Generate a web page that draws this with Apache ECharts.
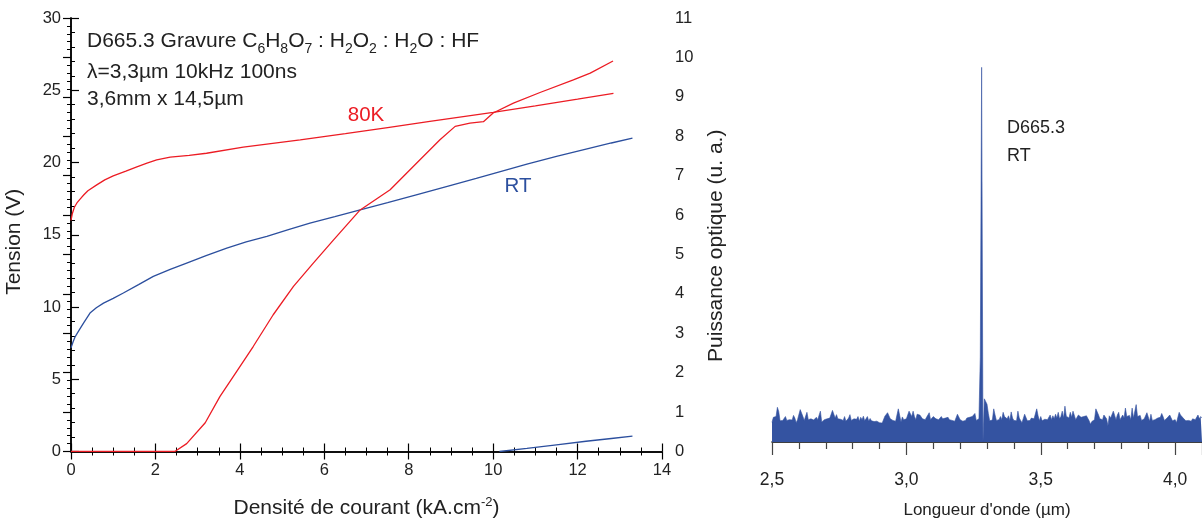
<!DOCTYPE html>
<html>
<head>
<meta charset="utf-8">
<script src="https://cdn.jsdelivr.net/npm/echarts@6/dist/echarts.min.js"></script>
<style>
html,body{margin:0;padding:0;background:#fff;}
#c{width:1202px;height:524px;}
</style>
</head>
<body>
<div id="c"></div>
<script>
// ---- Left chart data: voltage (Tension, V) vs current density (kA/cm2)
const J_RT = [0,0.05,0.1,0.2,0.3,0.45,0.6,0.77,1.0,1.24,1.6,1.95,2.35,2.74,3.2,3.69,4.15,4.64,5.15,5.66,6.25,6.85,7.5,8.2,9.0,9.6,10.17,10.8,11.5,12.2,12.8,13.3];
const V_RT = [7.17,7.6,7.95,8.43,8.9,9.58,9.95,10.27,10.6,10.97,11.55,12.12,12.6,13.04,13.55,14.08,14.5,14.88,15.35,15.8,16.25,16.72,17.22,17.78,18.42,18.9,19.37,19.88,20.42,20.92,21.35,21.68];
const J_80K = [0,0.03,0.08,0.14,0.21,0.3,0.4,0.61,0.8,1.0,1.3,1.56,1.8,2.03,2.35,2.8,3.21,4.08,5.43,6.5,7.5,8.5,10.0,11.0,12.0,12.85];
const V_80K = [16.0,16.45,16.9,17.2,17.45,17.75,18.05,18.45,18.8,19.07,19.4,19.7,19.95,20.18,20.37,20.5,20.64,21.06,21.56,22.0,22.42,22.85,23.47,23.92,24.38,24.79];
// ---- Optical power (u. a.) vs current density
const JP_80K = [0,2.4,2.46,2.74,3.18,3.53,3.93,4.32,4.79,5.27,5.74,6.22,6.85,7.56,8.19,8.74,9.1,9.45,9.77,10.0,10.48,11.11,11.9,12.3,12.84];
const P_80K = [0,0,0,0.2,0.73,1.4,2.04,2.67,3.47,4.19,4.78,5.37,6.13,6.64,7.32,7.91,8.25,8.33,8.37,8.59,8.84,9.11,9.43,9.6,9.91];
const JP_RT = [10.15,10.8,11.5,12.2,12.8,13.3];
const P_RT = [0,0.08,0.17,0.26,0.33,0.39];

// ---- Right chart: emission spectrum, samples from 2.5 µm every 0.005 µm
const WL_START = 2.5, WL_STEP = 0.005;
const SPECTRUM = [
0.51,0.64,0.62,0.66,0.9,0.79,0.55,0.52,0.56,0.6,
0.66,0.56,0.54,0.58,0.55,0.57,0.69,0.62,0.5,0.58,
0.55,0.84,0.86,0.66,0.56,0.6,0.77,0.58,0.55,0.6,
0.6,0.57,0.62,0.64,0.58,0.6,0.8,0.52,0.57,0.58,
0.58,0.6,0.55,0.62,0.58,0.82,0.79,0.62,0.71,0.6,
0.57,0.59,0.6,0.56,0.66,0.54,0.58,0.62,0.71,0.56,
0.58,0.6,0.55,0.59,0.66,0.54,0.64,0.58,0.67,0.55,
0.6,0.66,0.54,0.61,0.55,0.54,0.53,0.56,0.54,0.52,
0.5,0.51,0.49,0.5,0.67,0.62,0.76,0.73,0.6,0.57,
0.56,0.59,0.54,0.58,0.86,0.82,0.52,0.65,0.58,0.55,
0.6,0.56,0.8,0.8,0.66,0.8,0.66,0.58,0.72,0.7,
0.7,0.66,0.6,0.62,0.58,0.64,0.62,0.76,0.58,0.61,
0.66,0.62,0.6,0.64,0.58,0.62,0.66,0.6,0.58,0.62,
0.6,0.64,0.58,0.62,0.56,0.6,0.54,0.58,0.72,0.68,
0.58,0.6,0.54,0.55,0.56,0.62,0.62,0.64,0.6,0.66,
0.66,0.74,0.56,0.55,0.6,2.2,9.72,0,1.12,1.05,
0.98,0.74,0.55,0.54,0.57,0.86,0.7,0.56,0.55,0.58,
0.66,0.58,0.77,0.66,0.66,0.6,0.68,0.56,0.78,0.62,
0.56,0.57,0.55,0.8,0.62,0.56,0.5,0.49,0.72,0.7,
0.55,0.53,0.56,0.62,0.58,0.6,0.57,0.86,0.68,0.55,
0.66,0.55,0.58,0.59,0.57,0.58,0.6,0.7,0.58,0.68,
0.6,0.72,0.62,0.77,0.6,0.66,0.8,0.62,0.93,0.67,
0.63,0.62,0.77,0.64,0.8,0.78,0.58,0.62,0.7,0.68,
0.64,0.62,0.66,0.69,0.68,0.67,0.55,0.46,0.53,0.56,
0.58,0.86,0.84,0.7,0.6,0.56,0.58,0.7,0.68,0.6,
0.42,0.68,0.62,0.6,0.8,0.79,0.58,0.7,0.77,0.58,
0.6,0.7,0.62,0.88,0.66,0.7,0.69,0.58,0.88,0.62,
0.6,0.97,0.66,0.62,0.69,0.56,0.56,0.6,0.62,0.76,
0.72,0.54,0.72,0.56,0.54,0.58,0.6,0.62,0.58,0.64,
0.74,0.66,0.56,0.54,0.62,0.66,0.7,0.66,0.55,0.56,
0.58,0.5,0.52,0.77,0.7,0.69,0.62,0.6,0.55,0.5,
0.56,0.55,0.54,0.6,0.62,0.58,0.58,0.7,0.6,0.66,0.62
];

const RED = '#ec1c24', BLUE = '#2c4f9e', FILL = '#3453a1';
const FONT = 'Liberation Sans, Arial, sans-serif';

const zip = (xs, ys) => xs.map((x, i) => [x, ys[i]]);
const spec = SPECTRUM.map((v, i) => [+(WL_START + i * WL_STEP).toFixed(4), v]);

const axisCommon = {
  axisLine: {show: true, lineStyle: {color: '#000', width: 1.5}},
  splitLine: {show: false},
  axisTick: {show: true, inside: true, length: 8, lineStyle: {color: '#000', width: 1.2}},
  minorTick: {show: true, length: 4, lineStyle: {color: '#000', width: 1}},
  axisLabel: {color: '#222', fontSize: 16.5, fontFamily: FONT},
  nameTextStyle: {color: '#222', fontSize: 21, fontFamily: FONT}
};

const chart = echarts.init(document.getElementById('c'), null, {renderer: 'canvas'});
chart.setOption({
  animation: false,
  backgroundColor: '#fff',
  grid: [
    {left: 71, right: 540, top: 18, bottom: 72},
    {left: 772, right: 0, top: 18, bottom: 76}
  ],
  xAxis: [
    Object.assign({}, axisCommon, {
      gridIndex: 0, type: 'value', min: 0, max: 14, interval: 2, position: 'bottom',
      minorTick: Object.assign({}, axisCommon.minorTick, {splitNumber: 4}),
      axisLabel: Object.assign({}, axisCommon.axisLabel, {margin: 10}),
      name: '{n|Densité de courant (kA.cm}{sup|-2}{n|)}', nameLocation: 'middle', nameGap: 44,
      nameTextStyle: Object.assign({}, axisCommon.nameTextStyle, {
        rich: {
          n: {fontSize: 21, fontFamily: FONT, color: '#222', lineHeight: 26},
          sup: {fontSize: 13, fontFamily: FONT, color: '#222', verticalAlign: 'top', lineHeight: 13}
        }
      })
    }),
    Object.assign({}, axisCommon, {
      gridIndex: 0, type: 'value', min: 0, max: 14, interval: 2, position: 'top',
      minorTick: Object.assign({}, axisCommon.minorTick, {splitNumber: 4}),
      axisLabel: {show: false}
    }),
    {
      gridIndex: 1, type: 'value', min: 2.5, max: 4.1, interval: 0.5,
      axisLine: {show: true, lineStyle: {color: '#000', width: 1.5}},
      splitLine: {show: false},
      axisTick: {show: true, inside: false, length: 13, lineStyle: {color: '#444', width: 1.2}},
      minorTick: {show: true, splitNumber: 5, length: 7, lineStyle: {color: '#444', width: 1.2}},
      axisLabel: {
        color: '#222', fontSize: 17.5, fontFamily: FONT, margin: 29, showMaxLabel: false,
        formatter: v => (Math.abs(v * 2 - Math.round(v * 2)) < 1e-6 ? v.toFixed(1).replace('.', ',') : '')
      },
      name: "Longueur d'onde (µm)", nameLocation: 'middle', nameGap: 60,
      nameTextStyle: {color: '#222', fontSize: 17, fontFamily: FONT}
    }
  ],
  yAxis: [
    Object.assign({}, axisCommon, {
      gridIndex: 0, type: 'value', min: 0, max: 30, interval: 5, position: 'left',
      minorTick: Object.assign({}, axisCommon.minorTick, {splitNumber: 5}),
      axisLabel: Object.assign({}, axisCommon.axisLabel, {margin: 10}),
      name: 'Tension (V)', nameLocation: 'middle', nameGap: 46, nameRotate: 90,
      nameTextStyle: Object.assign({}, axisCommon.nameTextStyle, {padding: [0, 14, 0, 0]})
    }),
    Object.assign({}, axisCommon, {
      gridIndex: 0, type: 'value', min: 0, max: 11, interval: 1, position: 'right',
      minorTick: Object.assign({}, axisCommon.minorTick, {splitNumber: 5}),
      axisLabel: Object.assign({}, axisCommon.axisLabel, {margin: 13}),
      name: 'Puissance optique (u. a.)', nameLocation: 'middle', nameGap: 44, nameRotate: 90,
      nameTextStyle: Object.assign({}, axisCommon.nameTextStyle, {padding: [0, 22, 0, 0]})
    }),
    {
      gridIndex: 1, type: 'value', min: 0, max: 11, show: false
    }
  ],
  series: [
    {type: 'line', xAxisIndex: 0, yAxisIndex: 0, data: zip(J_80K, V_80K), showSymbol: false,
     lineStyle: {color: RED, width: 1.3}, itemStyle: {color: RED}, z: 3},
    {type: 'line', xAxisIndex: 0, yAxisIndex: 0, data: zip(J_RT, V_RT), showSymbol: false,
     lineStyle: {color: BLUE, width: 1.3}, itemStyle: {color: BLUE}, z: 3},
    {type: 'line', xAxisIndex: 0, yAxisIndex: 1, data: zip(JP_80K, P_80K), showSymbol: false,
     lineStyle: {color: RED, width: 1.3}, itemStyle: {color: RED}, z: 3},
    {type: 'line', xAxisIndex: 0, yAxisIndex: 1, data: zip(JP_RT, P_RT), showSymbol: false,
     lineStyle: {color: BLUE, width: 1.3}, itemStyle: {color: BLUE}, z: 3},
    {type: 'line', xAxisIndex: 2, yAxisIndex: 2, data: spec, showSymbol: false, sampling: null,
     lineStyle: {color: FILL, width: 0.6}, itemStyle: {color: FILL},
     areaStyle: {color: FILL, opacity: 1}, z: 2}
  ],
  graphic: [
    {type: 'text', x: 87, y: 41, z: 10, style: {
      text: '{n|D665.3 Gravure C}{s|6}{n|H}{s|8}{n|O}{s|7}{n| : H}{s|2}{n|O}{s|2}{n| : H}{s|2}{n|O : HF}',
      font: '21px ' + FONT, fill: '#222', verticalAlign: 'middle', align: 'left',
      rich: {
        n: {fontSize: 21, fontFamily: FONT, fill: '#222', lineHeight: 30},
        s: {fontSize: 14, fontFamily: FONT, fill: '#222', verticalAlign: 'bottom', lineHeight: 14}
      }
    }},
    {type: 'text', x: 87, y: 72.5, z: 10, style: {
      text: 'λ=3,3µm 10kHz 100ns', font: '21px ' + FONT, fill: '#222', verticalAlign: 'middle', align: 'left'}},
    {type: 'text', x: 87, y: 99.5, z: 10, style: {
      text: '3,6mm x 14,5µm', font: '21px ' + FONT, fill: '#222', verticalAlign: 'middle', align: 'left'}},
    {type: 'text', x: 366, y: 115, z: 10, style: {
      text: '80K', font: '20.5px ' + FONT, fill: RED, verticalAlign: 'middle', align: 'center'}},
    {type: 'text', x: 518, y: 186, z: 10, style: {
      text: 'RT', font: '20.5px ' + FONT, fill: BLUE, verticalAlign: 'middle', align: 'center'}},
    {type: 'text', x: 1007, y: 128, z: 10, style: {
      text: 'D665.3', font: '18px ' + FONT, fill: '#222', verticalAlign: 'middle', align: 'left'}},
    {type: 'text', x: 1007, y: 156, z: 10, style: {
      text: 'RT', font: '18px ' + FONT, fill: '#222', verticalAlign: 'middle', align: 'left'}}
  ]
});
</script>
</body>
</html>
